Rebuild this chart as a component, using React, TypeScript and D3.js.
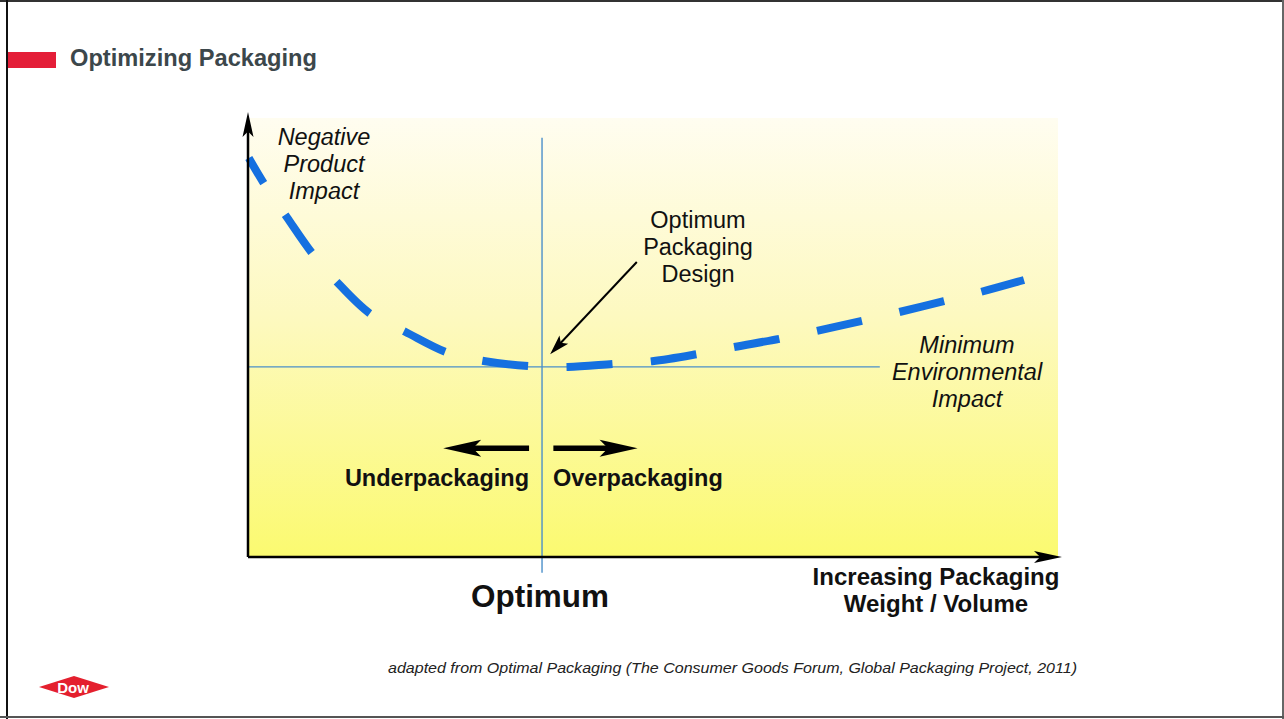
import React from 'react';
import * as d3 from 'd3';

// Conceptual trade-off curve: impact vs packaging weight/volume.
// Both axes are unitless 0–100.

const W = 1284;
const H = 719;

const curveX = [0.1, 2.1, 4.8, 8.0, 11.0, 15.1, 19.4, 24.7, 29.3, 34.6, 39.5, 45.1, 49.9, 55.4, 59.9, 65.6, 70.2, 75.8, 80.4, 85.9, 90.5, 95.8];
const curveY = [90.9, 84.7, 77.4, 69.0, 62.6, 55.4, 51.3, 46.5, 44.6, 43.5, 43.3, 44.0, 44.6, 46.2, 47.8, 49.7, 51.5, 53.8, 55.8, 58.3, 60.4, 63.1];

// reference lines
const optimumX = 36.3;
const minImpactY = 43.3;
const minImpactEndX = 78.0;
const optimumTopY = 95.5;
const optimumBottomY = -3.6;

// annotation arrows [x1, y1, x2(tip), y2(tip)]
const pointerArrow = [48.0, 67.2, 37.3, 46.2];
const underArrow = [34.7, 24.8, 24.1, 24.8];
const overArrow = [37.7, 24.8, 48.1, 24.8];

const yLabel = ['Negative', 'Product', 'Impact'];
const designLabel = ['Optimum', 'Packaging', 'Design'];
const minLabel = ['Minimum', 'Environmental', 'Impact'];
const xLabel = ['Increasing Packaging', 'Weight / Volume'];

const FONT = '"Liberation Sans", Arial, Helvetica, sans-serif';

const x = d3.scaleLinear().domain([0, 100]).range([248, 1058]);
const y = d3.scaleLinear().domain([0, 100]).range([557, 118]);

const arrowHead = (x1: number, y1: number, x2: number, y2: number, len: number, half: number) => {
  const a = Math.atan2(y2 - y1, x2 - x1);
  const pt = (back: number, side: number) => {
    const px = x2 - back * Math.cos(a) - side * Math.sin(a);
    const py = y2 - back * Math.sin(a) + side * Math.cos(a);
    return `${px},${py}`;
  };
  return [pt(0, 0), pt(len, -half), pt(len * 0.78, 0), pt(len, half)].join(' ');
};

const shaftEnd = (x1: number, y1: number, x2: number, y2: number, back: number) => {
  const a = Math.atan2(y2 - y1, x2 - x1);
  return [x2 - back * Math.cos(a), y2 - back * Math.sin(a)];
};

const Arrow = ({ coords, width, len, half }: { coords: number[]; width: number; len: number; half: number }) => {
  const x1 = x(coords[0]);
  const y1 = y(coords[1]);
  const x2 = x(coords[2]);
  const y2 = y(coords[3]);
  const [sx, sy] = shaftEnd(x1, y1, x2, y2, len * 0.7);
  return (
    <g>
      <line x1={x1} y1={y1} x2={sx} y2={sy} stroke="#000" strokeWidth={width} />
      <polygon points={arrowHead(x1, y1, x2, y2, len, half)} fill="#000" />
    </g>
  );
};

export default function App() {
  const pts = curveX.map((d, i) => [x(d), y(curveY[i])] as [number, number]);
  const line = d3.line().curve(d3.curveCatmullRom.alpha(0.5))(pts) || '';

  const x0 = x(0);
  const y0 = y(0);
  const yTop = 112;
  const xEnd = 1062;

  return (
    <svg
      width={W}
      height={H}
      style={{ position: 'fixed', left: 0, top: 0, background: '#fff' }}
      fontFamily={FONT}
    >
      <defs>
        <linearGradient id="bg" x1="0" y1="0" x2="0" y2="1">
          <stop offset="0" stopColor="#fffdf0" />
          <stop offset="0.45" stopColor="#fdf9c0" />
          <stop offset="1" stopColor="#fbfa70" />
        </linearGradient>
      </defs>

      {/* slide frame */}
      <line x1={0} y1={1} x2={W} y2={1} stroke="#333" strokeWidth={2} />
      <line x1={7} y1={0} x2={7} y2={H} stroke="#111" strokeWidth={2} />
      <line x1={W - 1} y1={0} x2={W - 1} y2={H} stroke="#666" strokeWidth={2} />
      <line x1={0} y1={717} x2={W} y2={717} stroke="#555" strokeWidth={2} />

      {/* header */}
      <rect x={8} y={52} width={48} height={16} fill="#e41e38" />
      <text x={70} y={66} fontSize={23.5} fontWeight="bold" fill="#3c474b" textLength={247} lengthAdjust="spacingAndGlyphs">
        Optimizing Packaging
      </text>

      {/* plot background */}
      <rect x={x(0)} y={y(100)} width={x(100) - x(0)} height={y(0) - y(100)} fill="url(#bg)" />

      {/* reference lines */}
      <line x1={x(0)} x2={x(minImpactEndX)} y1={y(minImpactY)} y2={y(minImpactY)} stroke="#4b8fc9" strokeWidth={1.4} />
      <line x1={x(optimumX)} x2={x(optimumX)} y1={y(optimumTopY)} y2={y(optimumBottomY)} stroke="#4b8fc9" strokeWidth={1.4} />

      {/* curve */}
      <path
        d={line}
        fill="none"
        stroke="#1570e0"
        strokeWidth={8}
        strokeDasharray="46 38.5"
        strokeDashoffset={17}
      />

      {/* axes */}
      <line x1={x0} y1={y0} x2={x0} y2={yTop + 18} stroke="#000" strokeWidth={2.5} />
      <polygon points={arrowHead(x0, y0, x0, yTop, 25, 5.5)} fill="#000" />
      <line x1={x0} y1={y0} x2={xEnd - 20} y2={y0} stroke="#000" strokeWidth={2.5} />
      <polygon points={arrowHead(x0, y0, xEnd, y0, 28, 6)} fill="#000" />

      {/* annotations */}
      <Arrow coords={pointerArrow} width={2} len={20} half={6} />
      <Arrow coords={underArrow} width={5.5} len={38} half={8.5} />
      <Arrow coords={overArrow} width={5.5} len={38} half={8.5} />

      <g fontSize={23.5} fontStyle="italic" fill="#111" textAnchor="middle">
        {yLabel.map((t, i) => (
          <text key={t} x={324} y={145 + i * 27}>{t}</text>
        ))}
        {minLabel.map((t, i) => (
          <text key={t} x={967} y={353 + i * 27}>{t}</text>
        ))}
      </g>
      <g fontSize={23.5} fill="#111" textAnchor="middle">
        {designLabel.map((t, i) => (
          <text key={t} x={698} y={228 + i * 27}>{t}</text>
        ))}
      </g>

      <g fontSize={23.5} fontWeight="bold" fill="#111">
        <text x={529} y={486} textAnchor="end">Underpackaging</text>
        <text x={553} y={486}>Overpackaging</text>
      </g>

      <text x={540} y={607} fontSize={32} fontWeight="bold" fill="#111" textAnchor="middle" textLength={138} lengthAdjust="spacingAndGlyphs">
        Optimum
      </text>
      <g fontSize={24} fontWeight="bold" fill="#111" textAnchor="middle">
        {xLabel.map((t, i) => (
          <text key={t} x={936} y={585 + i * 27}>{t}</text>
        ))}
      </g>

      {/* source */}
      <text
        x={388}
        y={673}
        fontSize={14.5}
        fontStyle="italic"
        fill="#222"
        textLength={689}
        lengthAdjust="spacingAndGlyphs"
      >
        adapted from Optimal Packaging (The Consumer Goods Forum, Global Packaging Project, 2011)
      </text>

      {/* logo */}
      <polygon points="39,687 74,676 109,687 74,698" fill="#e4202e" />
      <text x={73} y={692.5} fontSize={15} fontWeight="bold" fill="#fff" textAnchor="middle">
        Dow
      </text>
      <text x={91} y={696} fontSize={4} fill="#fff" textAnchor="middle">®</text>
    </svg>
  );
}
